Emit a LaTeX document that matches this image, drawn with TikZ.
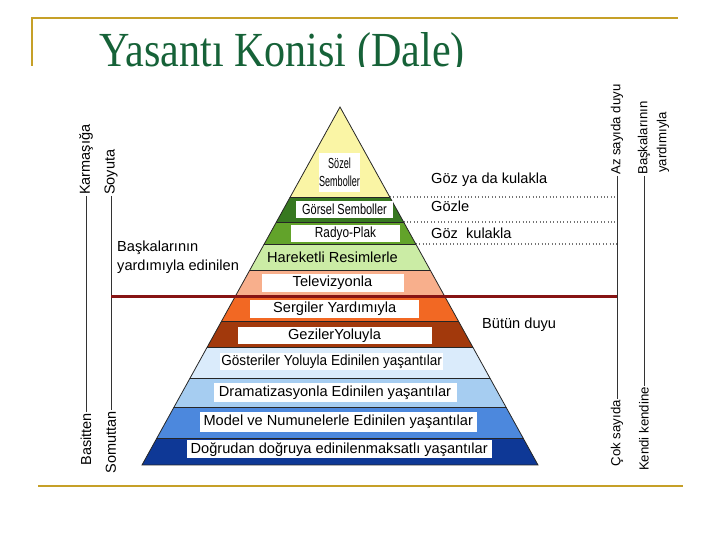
\documentclass[tikz,border=0pt]{standalone}
\usepackage{fontspec}
\setmainfont{Liberation Sans}
\newfontfamily\titlefont{Liberation Serif}
\usepackage{graphicx}
\usetikzlibrary{calc}

\definecolor{framegold}{RGB}{198,160,40}
\definecolor{titlegreen}{RGB}{22,98,56}
\definecolor{linered}{RGB}{135,20,20}
\definecolor{conyel}{RGB}{250,245,165}
\definecolor{congrd}{RGB}{55,120,32}
\definecolor{congrm}{RGB}{98,163,42}
\definecolor{congrl}{RGB}{203,236,165}
\definecolor{consal}{RGB}{248,175,140}
\definecolor{conorg}{RGB}{242,104,35}
\definecolor{conbrn}{RGB}{162,57,12}
\definecolor{conbla}{RGB}{218,235,251}
\definecolor{conblb}{RGB}{166,205,241}
\definecolor{conblc}{RGB}{76,136,221}
\definecolor{conbld}{RGB}{14,56,150}

\tikzset{
  bandline/.style={draw=black!85, line width=0.8pt},
  lbl/.style={fill=white, inner sep=0pt, font=\fontsize{14.6}{17}\selectfont},
  sidetxt/.style={inner sep=0pt, font=\fontsize{14.6}{18.7}\selectfont},
  vlbl/.style={rotate=90, inner sep=1pt, font=\fontsize{14.5}{17}\selectfont},
  vlbr/.style={rotate=90, inner sep=1pt, font=\fontsize{13.2}{15}\selectfont},
  axline/.style={draw=black!80, line width=0.9pt},
  dotline/.style={draw=black!55, line width=1.1pt, dash pattern=on 1pt off 2.4pt},
}

\begin{document}
\begin{tikzpicture}[x=1pt, y=-1pt]
\useasboundingbox (0,0) rectangle (720,540);

% frame and title
\draw[framegold, line width=2.5pt] (32,66) -- (32,18) -- (678,18);
\draw[framegold, line width=2pt] (38,486) -- (683,486);
\begin{scope}
  \clip (0,0) rectangle (720,66.5);
  \node[anchor=base west, inner sep=0pt, text=titlegreen,
        font=\titlefont\fontsize{49}{50}\selectfont] (title) at (99,67)
        {\scalebox{0.86}[1]{Yasantı Konisi (Dale)}};
\end{scope}

% cone
\coordinate (apex) at (340,107);
\coordinate (bl) at (142,465);
\coordinate (br) at (538,465);
\begin{scope}
  \clip (apex) -- (bl) -- (br) -- cycle;
  \foreach \ya/\yb/\col in {107/197/conyel, 197/222/congrd, 222/244/congrm,
      244/270/congrl, 270/296/consal, 296/321/conorg, 321/347/conbrn,
      347/378/conbla, 378/407/conblb, 407/438/conblc, 438/465/conbld}
    \fill[\col] (130,\ya) rectangle (550,\yb);
  \foreach \y in {197,222,244,270,321,347,378,407,438}
    \draw[bandline] (130,\y) -- (550,\y);
\end{scope}
\draw[bandline] (apex) -- (bl) -- (br) -- cycle;

% band labels
\node[lbl, minimum width=41pt, minimum height=39pt, align=center,
      font=\fontsize{14.6}{18.5}\selectfont] (sozel) at (339.5,172.5)
      {\scalebox{0.62}[1]{Sözel}\\\scalebox{0.62}[1]{Semboller}};
\node[lbl, minimum width=97pt, minimum height=17pt] (gorsel) at (344.5,209.5)
      {\scalebox{0.75}[1]{Görsel Semboller}};
\node[lbl, minimum width=109pt, minimum height=17pt] (radyo) at (345.5,233.5)
      {\scalebox{0.81}[1]{Radyo-Plak}};
\node[lbl, fill=none] (hareket) at (332.5,257) {Hareketli Resimlerle};
\node[lbl, minimum width=142pt, minimum height=18pt] (tv) at (332.5,283) {Televizyonla};
\node[lbl, minimum width=169pt, minimum height=18pt] (sergi) at (334.7,308.5) {Sergiler Yardımıyla};
\node[lbl, minimum width=194pt, minimum height=17pt] (gezi) at (334.5,335.3) {GezilerYoluyla};
\node[lbl, minimum width=223pt, minimum height=17pt] (goster) at (331.7,361.7)
      {\scalebox{0.93}[1]{Gösteriler Yoluyla Edinilen yaşantılar}};
\node[lbl, minimum width=243pt, minimum height=18.4pt] (drama) at (335,392.5)
      {Dramatizasyonla Edinilen yaşantılar};
\node[lbl, minimum width=277pt, minimum height=20pt] (model) at (338.3,421.7)
      {Model ve Numunelerle Edinilen yaşantılar};
\node[lbl, minimum width=305pt, minimum height=18.3pt] (dogru) at (339.2,449.2)
      {Doğrudan doğruya edinilenmaksatlı yaşantılar};

% left scales
\node[vlbl, anchor=west] (karm) at (86,196) {Karmaşığa};
\node[vlbl, anchor=east] (basit) at (86,412) {Basitten};
\draw[axline] (karm.west) -- (basit.east);
\node[vlbl, anchor=west] (soy) at (111,196) {Soyuta};
\node[vlbl, anchor=east] (somut) at (111,410) {Somuttan};
\draw[axline] (soy.west) -- (somut.east);
\node[sidetxt, anchor=west, align=left] (baskasol) at (117,257.5)
      {Başkalarının\\yardımıyla edinilen};

% right scales
\node[vlbr, anchor=west] (az) at (617,176) {Az sayıda duyu};
\node[vlbr, anchor=east] (cok) at (617,399) {Çok sayıda};
\draw[axline] (az.west) -- (cok.east);
\node[vlbr, anchor=west] (baskasag) at (644,176) {Başkalarının};
\node[vlbr, anchor=west] (yardim) at (663,174) {yardımıyla};
\node[vlbr, anchor=east] (kendi) at (644,386) {Kendi kendine};
\draw[axline] (baskasag.west) -- (kendi.east);

% senses
\coordinate (d1) at ($(apex)!0.2514!(br)$);
\coordinate (d2) at ($(apex)!0.3212!(br)$);
\coordinate (d3) at ($(apex)!0.3827!(br)$);
\draw[dotline] (d1) -- (d1 -| az.west);
\draw[dotline] (d2) -- (d2 -| az.west);
\draw[dotline] (d3) -- (d3 -| az.west);
\node[sidetxt, anchor=west] (gozkulak) at (431,180) {Göz ya da kulakla};
\node[sidetxt, anchor=west] (gozle) at (431,206.7) {Gözle};
\node[sidetxt, anchor=west] (gozve) at (431,233.3) {Göz\ \ kulakla};
\node[sidetxt, anchor=west] (butun) at (482,325) {Bütün duyu};

% border line
\coordinate (rl) at (340,296);
\draw[linered, line width=3pt] (rl -| soy.west) -- (rl -| az.west);
\end{tikzpicture}
\end{document}
